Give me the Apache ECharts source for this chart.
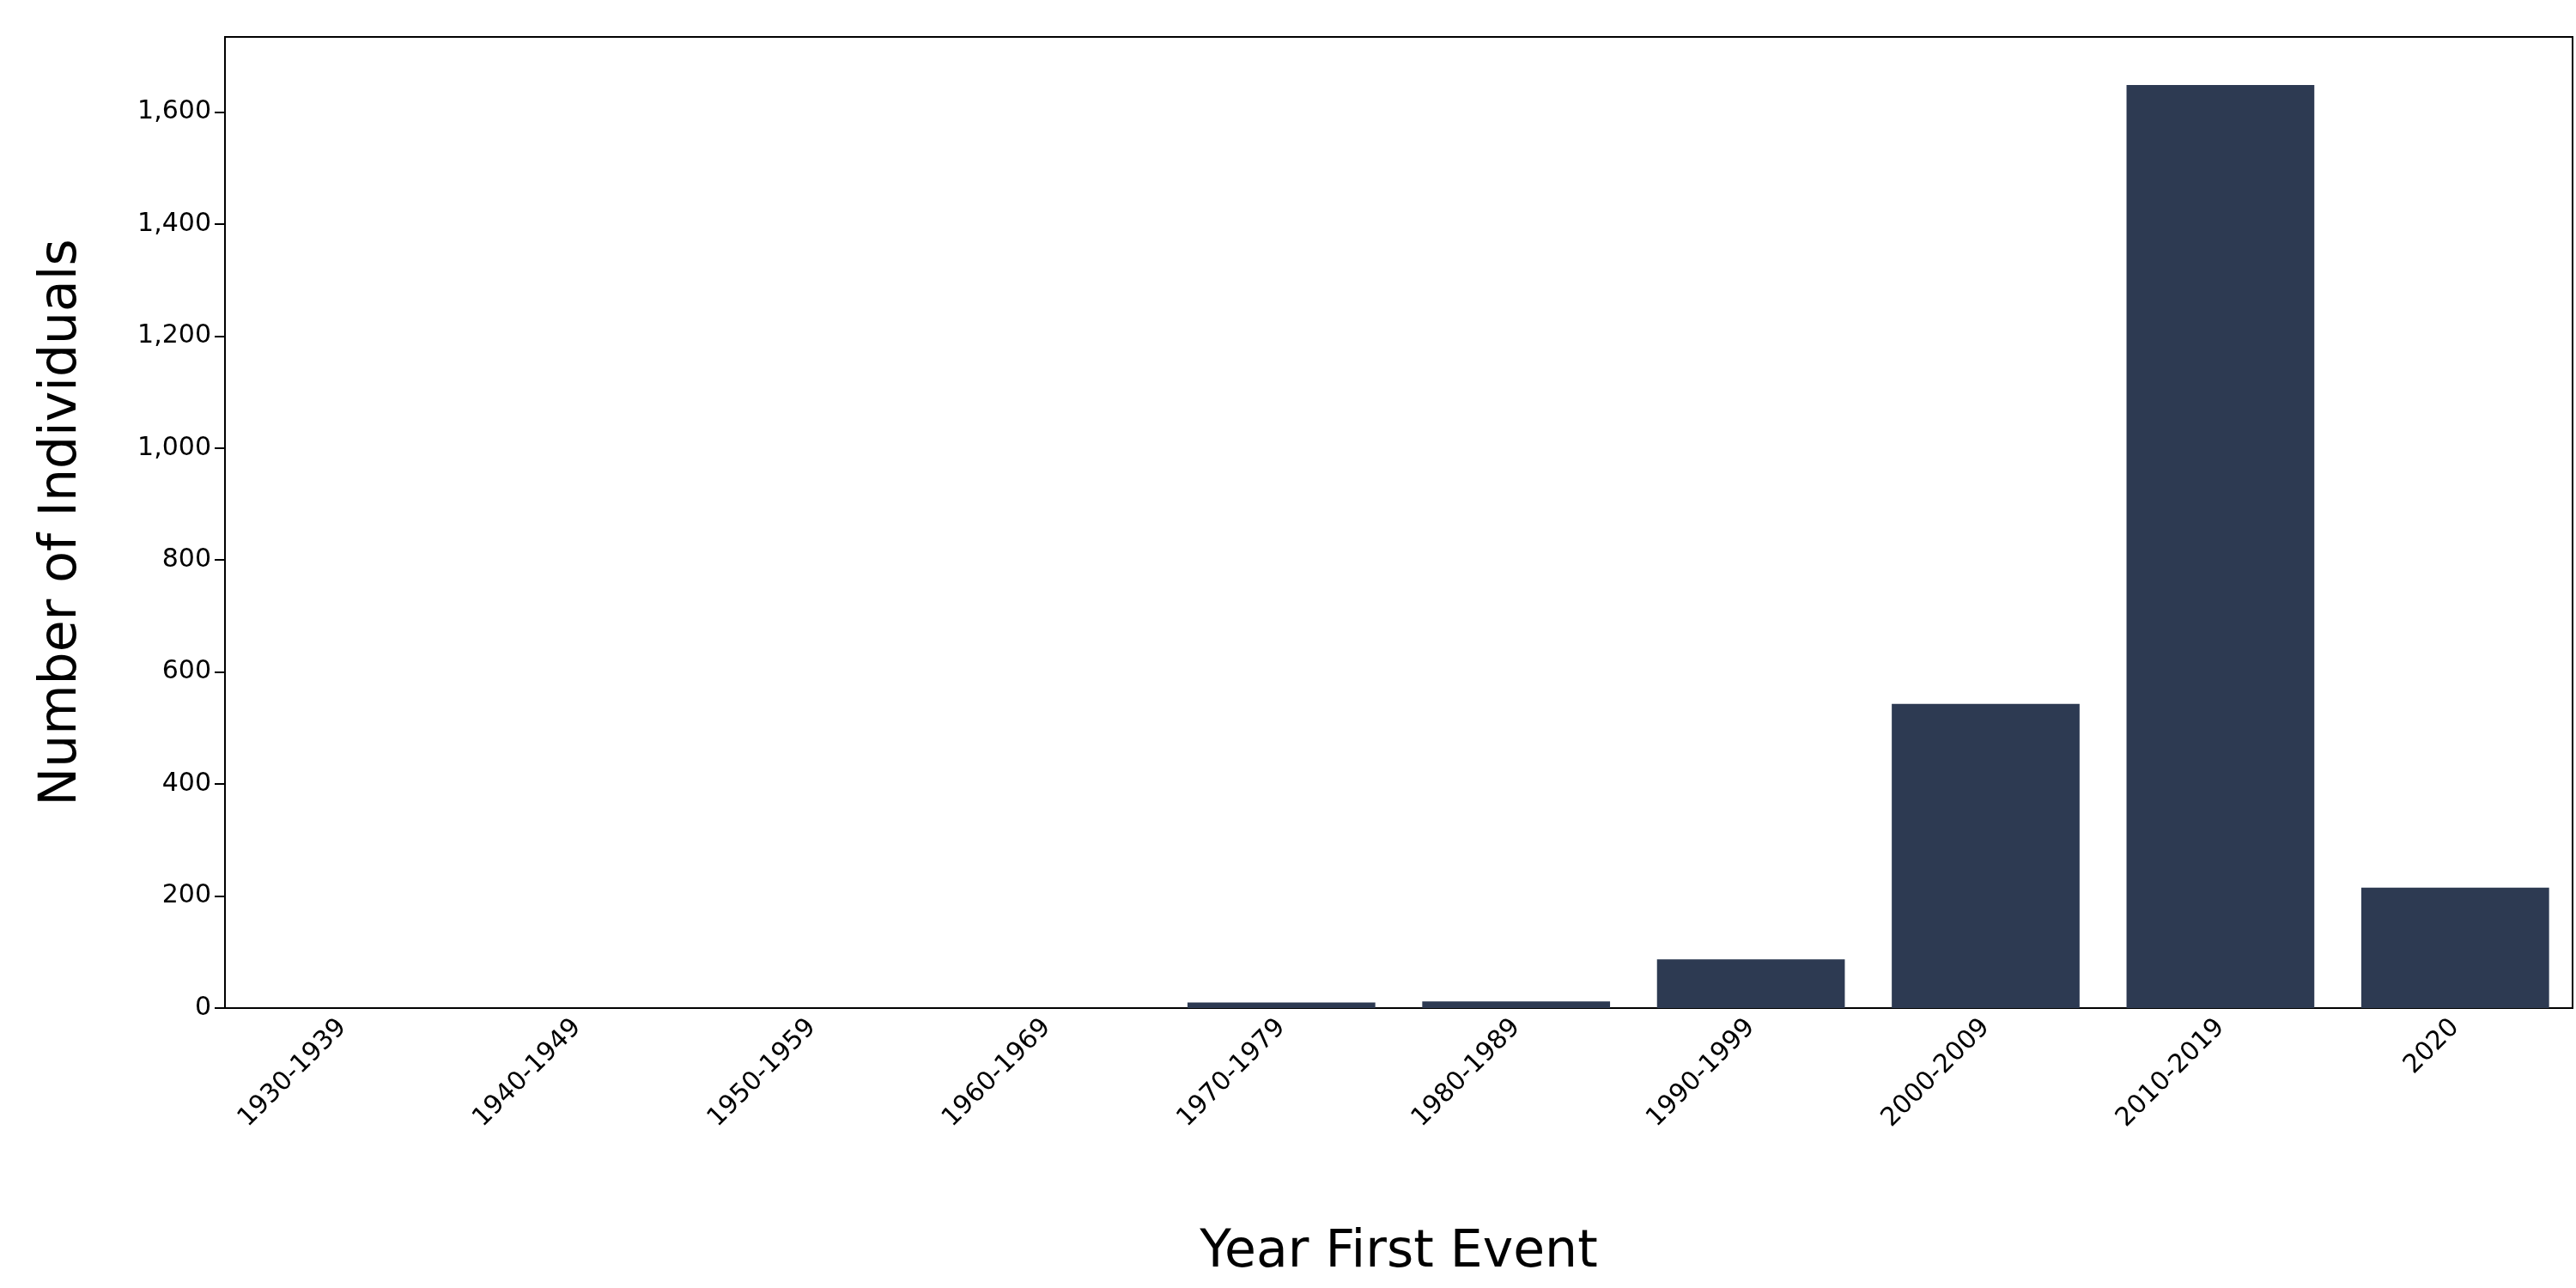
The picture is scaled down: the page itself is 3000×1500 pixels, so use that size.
<!DOCTYPE html>
<html>
<head>
<meta charset="utf-8">
<script src="https://cdn.jsdelivr.net/npm/echarts@6/dist/echarts.min.js"></script>
<style>html,body{margin:0;padding:0;background:#fff}#chart{width:3000px;height:1500px}</style>
</head>
<body>
<div id="chart"></div>
<script>
var categories = ["1930-1939", "1940-1949", "1950-1959", "1960-1969", "1970-1979", "1980-1989", "1990-1999", "2000-2009", "2010-2019", "2020"];
var counts = [0, 0, 0, 0, 10, 12, 87, 543, 1648, 215];

var chart = echarts.init(document.getElementById("chart"));
var font = "DejaVu Sans";
chart.setOption({
    animation: false,
    grid: {
        left: 262, right: 4, top: 43, bottom: 326,
        show: true, borderColor: "#000", borderWidth: 2, backgroundColor: "#fff"
    },
    xAxis: {
        type: "category",
        data: categories,
        name: "Year First Event",
        nameLocation: "middle",
        nameGap: 255,
        nameTextStyle: { fontFamily: font, fontSize: 60, color: "#000" },
        axisLine: { lineStyle: { color: "#000", width: 2 } },
        axisTick: { alignWithLabel: true, length: 12, lineStyle: { color: "#000", width: 2 } },
        axisLabel: { rotate: 45, fontFamily: font, fontSize: 30, color: "#000", margin: 18, interval: 0 }
    },
    yAxis: {
        type: "value",
        min: 0, max: 1734, interval: 200,
        name: "Number of Individuals",
        nameLocation: "middle",
        nameGap: 160,
        nameTextStyle: { fontFamily: font, fontSize: 60, color: "#000" },
        splitLine: { show: false },
        axisLine: { show: true, lineStyle: { color: "#000", width: 2 } },
        axisTick: { show: true, length: 12, lineStyle: { color: "#000", width: 2 } },
        axisLabel: { fontFamily: font, fontSize: 30, color: "#000", margin: 16, showMaxLabel: false }
    },
    series: [{
        type: "bar",
        data: counts,
        barCategoryGap: "20%",
        itemStyle: { color: "#2d3a52" }
    }]
});
</script>
</body>
</html>
